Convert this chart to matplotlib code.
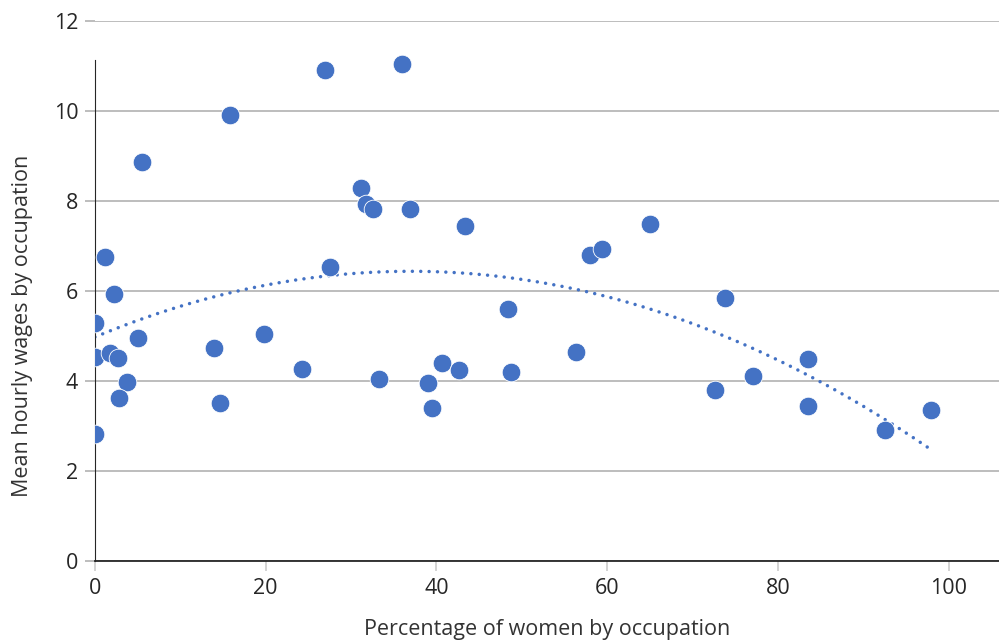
import numpy as np
import matplotlib.pyplot as plt

plt.rcParams['font.family'] = ['Open Sans', 'DejaVu Sans']

# share of women in each occupation (%) and the mean hourly wage
pct_women = [0.0, 0.0, 0.0, 1.2, 2.2, 1.75, 2.65, 3.75, 2.85, 5.0, 5.5,
             15.8, 14.0, 14.6, 19.8, 24.2, 26.9, 36.0, 27.55, 31.15, 31.7,
             32.6, 36.85, 43.4, 33.26, 38.96, 39.5, 40.7, 42.6, 48.4, 48.75,
             56.4, 57.96, 59.4, 65.0, 73.8, 72.6, 77.1, 83.5, 83.55, 92.6, 97.9]
mean_wage = [5.28, 4.53, 2.82, 6.74, 5.93, 4.62, 4.50, 3.97, 3.62, 4.96, 8.85,
             9.90, 4.73, 3.50, 5.04, 4.26, 10.91, 11.04, 6.53, 8.29, 7.92,
             7.81, 7.81, 7.44, 4.05, 3.94, 3.40, 4.40, 4.23, 5.60, 4.19,
             4.64, 6.79, 6.92, 7.48, 5.83, 3.79, 4.10, 4.48, 3.43, 2.90, 3.35]

blue = '#4472C4'

fig = plt.figure(figsize=(9.99, 6.41), dpi=100)
ax = fig.add_axes([0.095, 0.125, 0.905, 0.843])

# second-order polynomial trendline
coef = np.polyfit(pct_women, mean_wage, 2)
xs = np.linspace(min(pct_women), max(pct_women), 200)
ax.plot(xs, np.polyval(coef, xs), color=blue, lw=2.5, ls=(0, (0.01, 2.4)),
        dash_capstyle='round', zorder=2)

ax.scatter(pct_women, mean_wage, s=180, color=blue, edgecolor='white',
           linewidth=0.6, zorder=3)

ax.set_xlim(0, 105.9)
ax.set_ylim(0, 12)
ax.set_xticks(range(0, 101, 20))
ax.set_yticks(range(0, 13, 2))
ax.yaxis.grid(True, color='#ababab', lw=1.1)
ax.set_axisbelow(True)

for side in ['top', 'right']:
    ax.spines[side].set_visible(False)
ax.spines['left'].set_bounds(0, 11.13)
ax.spines['left'].set_color('#262626')
ax.spines['bottom'].set_color('#262626')
ax.spines['bottom'].set_linewidth(1.3)

ax.tick_params(axis='y', length=7, width=1.1, color='#ababab',
               labelsize=15.5, labelcolor='#262626', pad=5)
ax.tick_params(axis='x', length=7, width=1.1, color='#c8c8c8',
               labelsize=15.5, labelcolor='#262626', pad=5)

ax.set_xlabel('Percentage of women by occupation', fontsize=15.5,
              color='#333333', labelpad=15)
ax.set_ylabel('Mean hourly wages by occupation', fontsize=15.5,
              color='#333333')
# y label sits a little below the middle of the axis
ax.yaxis.set_label_coords(-0.069, 0.435)

fig.savefig('out.png', dpi=100)
